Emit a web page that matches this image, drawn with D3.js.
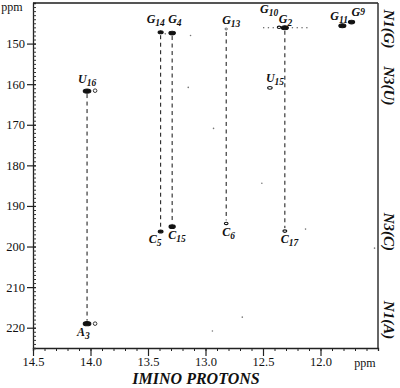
<!DOCTYPE html>
<html><head><meta charset="utf-8">
<script src="https://cdn.jsdelivr.net/npm/d3@7"></script>
<style>
html,body{margin:0;padding:0;background:#fff;}
svg{display:block;}
text{font-family:"Liberation Serif","Times New Roman",serif;fill:#111;}
</style></head>
<body>
<svg id="chart" width="400" height="388"></svg>
<script>
// ---- data ----
const residues   = ["A","U","G","G","C","C","G","C","G","G","C","U","G","G"];
const subscripts = ["3","16","14","4","5","15","13","6","10","2","17","15","11","9"];
const protonPpm  = [14.03,14.03,13.39,13.29,13.39,13.29,12.82,12.82,12.36,12.31,12.31,12.44,11.81,11.73];
const nitrogenPpm= [219.0,161.7,147.2,147.4,196.3,195.1,146.4,194.3,146.0,146.1,196.2,160.9,145.6,144.7];
const intensity  = [1.0,1.0,0.55,0.8,0.5,0.75,0.1,0.3,0.3,0.9,0.35,0.45,0.9,0.75];
// H-bond connectivities (index of upper peak, index of lower peak)
const links = [[1,0],[2,4],[3,5],[6,7],[9,10]];
// weak shoulder / noise specks [1H ppm, 15N ppm]
const weakH = [13.96,13.96,13.13,13.15,12.51,12.13,12.93,12.68,12.94,11.53,13.35];
const weakN = [219.0,161.6,148.0,160.8,184.4,195.7,170.9,217.4,220.8,200.4,147.6];
// t1-noise ridge at G10/G2
const ridgeH = [12.50,12.10];
const ridgeN = 146.1;
const xTicks = [14.5,14.0,13.5,13.0,12.5,12.0];
const yTicks = [150,160,170,180,190,200,210,220];
const regionLabels = ["N1(G)","N3(U)","N3(C)","N1(A)"];
const regionN = [146.4,160.4,196.4,218.1];

// ---- layout ----
const svg = d3.select("#chart");
const L=33, R=378, T=3, B=348;
const x = d3.scaleLinear().domain([14.5,11.5]).range([L,R]);
const y = d3.scaleLinear().domain([140,225]).range([T,B]);

// frame
svg.append("line").attr("x1",L).attr("x2",R).attr("y1",T).attr("y2",T).attr("stroke","#555").attr("stroke-width",2);
svg.append("line").attr("x1",R).attr("x2",R).attr("y1",T).attr("y2",B).attr("stroke","#333").attr("stroke-width",1.5);

// x axis
const gx = svg.append("g").attr("transform",`translate(0,${B})`);
gx.call(d3.axisBottom(x).tickValues(d3.range(115,146).map(v=>v/10)).tickSize(3).tickFormat(""))
  .call(g=>g.select(".domain").attr("stroke","#222").attr("stroke-width",1.3));
gx.selectAll(".tick line").attr("stroke","#222");
const gx2 = svg.append("g").attr("transform",`translate(0,${B})`);
gx2.call(d3.axisBottom(x).tickValues(xTicks).tickSize(8).tickFormat(d3.format(".1f")))
  .call(g=>g.select(".domain").remove());
gx2.selectAll(".tick line").attr("stroke","#222").attr("stroke-width",1.2);
gx2.selectAll(".tick text").attr("font-size","12.5px").attr("dy","0.9em").attr("y",7)
  .style("font-family","Liberation Serif, serif");
svg.append("text").attr("x",365).attr("y",367).attr("text-anchor","middle").attr("font-size","12px").text("ppm");

// y axis
const gy = svg.append("g").attr("transform",`translate(${L},0)`);
gy.call(d3.axisRight(y).tickValues(d3.range(141,226)).tickSize(3).tickFormat(""))
  .call(g=>g.select(".domain").attr("stroke","#222").attr("stroke-width",1.3));
gy.selectAll(".tick line").attr("stroke","#333");
const gy2 = svg.append("g").attr("transform",`translate(${L},0)`);
gy2.call(d3.axisLeft(y).tickValues(yTicks).tickSize(6).tickFormat(d3.format("d")))
  .call(g=>g.select(".domain").remove());
gy2.selectAll(".tick line").attr("x2",-6).attr("x1",3).attr("stroke","#222").attr("stroke-width",1.2);
gy2.selectAll(".tick text").attr("font-size","12.5px").attr("x",-8)
  .style("font-family","Liberation Serif, serif");
svg.append("text").attr("x",12).attr("y",11).attr("text-anchor","middle").attr("font-size","12px").text("ppm");

// dashed connectivity lines
svg.append("g").selectAll("line").data(links).join("line")
  .attr("x1",d=>x(protonPpm[d[0]])).attr("x2",d=>x(protonPpm[d[1]]))
  .attr("y1",d=>y(nitrogenPpm[d[0]])+3).attr("y2",d=>y(nitrogenPpm[d[1]])-3)
  .attr("stroke","#111").attr("stroke-width",1).attr("stroke-dasharray","4,3.5");

// ridge (dotted)
svg.append("line").attr("x1",x(ridgeH[0])).attr("x2",x(ridgeH[1]))
  .attr("y1",y(ridgeN)).attr("y2",y(ridgeN))
  .attr("stroke","#444").attr("stroke-width",1.2).attr("stroke-dasharray","1.3,3.5");

// weak specks
svg.append("g").selectAll("circle").data(weakH).join("circle")
  .attr("cx",d=>x(d)).attr("cy",(d,i)=>y(weakN[i]))
  .attr("r",(d,i)=>i<2?1.8:0.8)
  .attr("fill",(d,i)=>i<2?"#fff":"#777").attr("stroke",(d,i)=>i<2?"#222":"none").attr("stroke-width",0.9);

// peaks
const peaks = residues.map((r,i)=>({r, s:subscripts[i], h:protonPpm[i], n:nitrogenPpm[i], k:intensity[i]}));
svg.append("g").selectAll("ellipse").data(peaks).join("ellipse")
  .attr("cx",d=>x(d.h)).attr("cy",d=>y(d.n))
  .attr("rx",d=>1+2.8*d.k).attr("ry",d=>0.8+1.3*d.k)
  .attr("fill",d=>d.k>=0.5?"#111":"#fff")
  .attr("stroke","#111").attr("stroke-width",d=>d.k<0.2?0.6:1.1);

// peak labels (offsets in px relative to peak)
const offs = {"A3":[-10,12],"U16":[-9,-8],"G14":[-14,-9],"G4":[-4,-10],"C5":[-12,11],"C15":[-4,12],
  "G13":[-4,-5],"C6":[-4,13],"G10":[-19,-14],"G2":[-6,-5],"C17":[-4,12],"U15":[-4,-6],"G11":[-12,-6],"G9":[0,-6]};
const lab = svg.append("g").selectAll("text").data(peaks).join("text")
  .attr("x",d=>x(d.h)+offs[d.r+d.s][0]).attr("y",d=>y(d.n)+offs[d.r+d.s][1])
  .attr("font-size","12px").attr("font-style","italic").attr("font-weight","bold");
lab.append("tspan").text(d=>d.r);
lab.append("tspan").attr("font-size","9.5px").attr("dy",d=>d.r+d.s==="G9"?"-1":"3").text(d=>d.s);

// right-side nucleus labels
svg.append("g").selectAll("text").data(regionLabels).join("text")
  .attr("transform",(d,i)=>`translate(389,${y(regionN[i])}) rotate(90)`)
  .attr("text-anchor","middle").attr("dominant-baseline","central")
  .attr("font-size","15px").attr("font-style","italic").attr("font-weight","bold").text(d=>d);

// axis title
svg.append("text").attr("x",196).attr("y",384).attr("text-anchor","middle")
  .attr("font-size","16px").attr("font-style","italic").attr("font-weight","bold").text("IMINO PROTONS");
</script>
</body></html>
